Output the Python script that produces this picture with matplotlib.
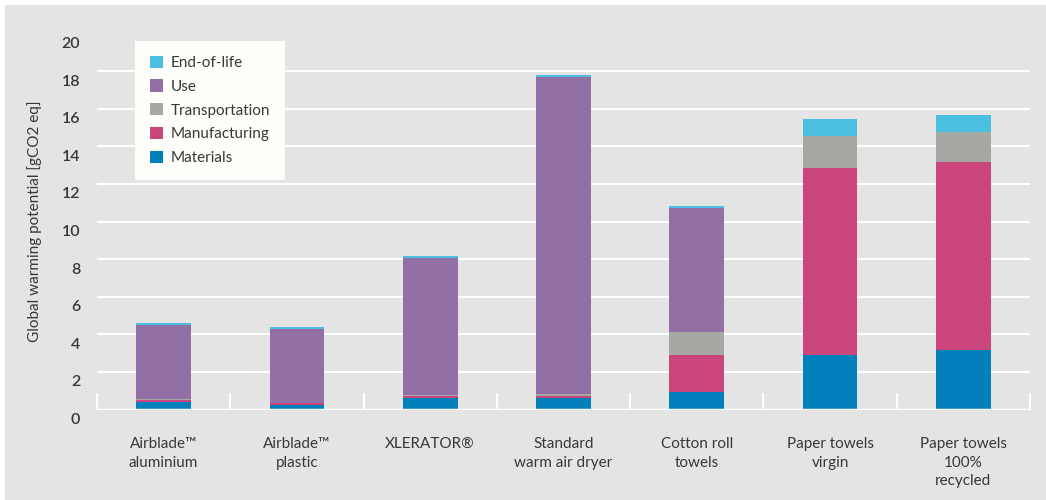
import numpy as np
import matplotlib
matplotlib.use("Agg")
from matplotlib import pyplot as plt
from matplotlib import transforms
from matplotlib.patches import Rectangle

# categories and stacked values (gCO2 eq)
categories = ["Airblade\u2122\naluminium", "Airblade\u2122\nplastic", "XLERATOR\u00ae",
              "Standard\nwarm air dryer", "Cotton roll\ntowels", "Paper towels\nvirgin",
              "Paper towels\n100%\nrecycled"]
materials = [0.38, 0.22, 0.60, 0.60, 0.91, 2.88, 3.15]
manufacturing = [0.13, 0.10, 0.12, 0.12, 1.97, 9.98, 10.00]
transportation = [0.06, 0.04, 0.07, 0.10, 1.23, 1.69, 1.63]
use = [3.92, 3.91, 7.25, 16.85, 6.59, 0.0, 0.0]
end_of_life = [0.09, 0.10, 0.11, 0.11, 0.12, 0.89, 0.87]

series = [("Materials", materials, "#0180bc"),
          ("Manufacturing", manufacturing, "#c9457b"),
          ("Transportation", transportation, "#a5a8a3"),
          ("Use", use, "#9270a6"),
          ("End-of-life", end_of_life, "#4bbfe1")]

plt.rcParams['font.family'] = ['Lato', 'DejaVu Sans']
text_col = "#383838"
bg = "#e4e4e4"

fig = plt.figure(figsize=(10.46, 5.0), dpi=100, facecolor="white")
fig.patches.append(Rectangle((5 / 1046, 0), 1, 1 - 5 / 500, transform=fig.transFigure,
                             facecolor=bg, edgecolor="none", zorder=-1))
ax = fig.add_axes([97 / 1046, 1 - 409.5 / 500, (1030 - 97) / 1046, 376 / 500])
ax.set_facecolor(bg)

x = np.arange(len(categories))
bottom = np.zeros(len(categories))
handles = []
for name, vals, col in series:
    b = ax.bar(x, vals, width=0.41, bottom=bottom, color=col, label=name, zorder=3)
    handles.append(b)
    bottom += np.array(vals)

ax.set_xlim(-0.5, len(categories) - 0.5)
ax.set_ylim(0, 20)
yt = np.arange(0, 21, 2)
ax.set_yticks(yt)
for v in yt[1:-1]:
    ax.axhline(v, color="white", lw=1.5, zorder=1)
ax.axhline(0, color="white", lw=2.5, zorder=4)

for s in ax.spines.values():
    s.set_visible(False)

ax.tick_params(axis="y", length=0, pad=12, labelsize=11.5, labelcolor=text_col)
offset = transforms.ScaledTranslation(0, -9 / 100, fig.dpi_scale_trans)
for lab in ax.get_yticklabels():
    lab.set_transform(lab.get_transform() + offset)
    lab.set_fontweight("semibold")

ax.set_xticks(x)
ax.set_xticklabels(categories, fontsize=11, color=text_col, linespacing=1.4)
ax.tick_params(axis="x", length=0, pad=20)
ax.set_xticks(np.arange(-0.5, len(categories), 1), minor=True)
ax.tick_params(axis="x", which="minor", direction="in", length=12, width=1.5, color="white")
for t in ax.xaxis.get_minor_ticks():
    t.tick1line.set_zorder(5)

ax.set_ylabel("Global warming potential [gCO2 eq]", fontsize=11, color=text_col, labelpad=14)

leg = ax.legend(handles[::-1], [h.get_label() for h in handles[::-1]],
                loc="upper left", bbox_to_anchor=(38 / 933, (409.5 - 41) / 376),
                frameon=True, fancybox=False, fontsize=11, handlelength=0.85,
                handleheight=0.85, labelspacing=0.62, borderpad=0.95, handletextpad=0.55,
                borderaxespad=0)
leg.get_frame().set_facecolor("#fdfdf9")
leg.get_frame().set_edgecolor("none")
leg.get_frame().set_alpha(1)
for t in leg.get_texts():
    t.set_color(text_col)
leg.set_zorder(6)

plt.savefig("out.png", dpi=100, facecolor=fig.get_facecolor())
